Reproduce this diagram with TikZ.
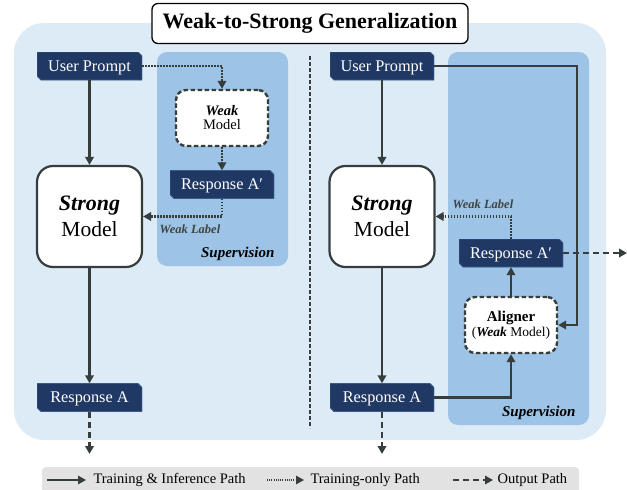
\documentclass[tikz,border=0pt]{standalone}
\usepackage{fontspec}
\setmainfont{Liberation Serif}
\usetikzlibrary{arrows.meta,calc}
\definecolor{bgblue}{HTML}{DDEBF7}
\definecolor{supblue}{HTML}{9DC3E6}
\definecolor{navy}{HTML}{203864}
\definecolor{navyedge}{HTML}{3A5A8C}
\definecolor{arr}{HTML}{363D3D}
\definecolor{lgrey}{HTML}{E2E2E2}
\definecolor{lbl}{HTML}{3E4545}
\begin{document}
\begin{tikzpicture}[x=1pt,y=-1pt,
  darknode/.style={rectangle, minimum width=#1, minimum height=28pt, inner sep=0pt,
    text height=10.8pt, text depth=0pt,
    text=white, font=\fontsize{16.3}{16.3}\selectfont,
    path picture={\fill[navy, draw=navyedge, line width=0.8pt]
      (path picture bounding box.north west)
      -- ([xshift=-4pt]path picture bounding box.north east)
      -- ([yshift=-4pt]path picture bounding box.north east)
      -- (path picture bounding box.south east)
      -- ([xshift=4pt]path picture bounding box.south west)
      -- ([yshift=4pt]path picture bounding box.south west) -- cycle;}},
  darknode/.default=105pt,
  strongbox/.style={draw=arr, line width=2.2pt, fill=white, rounded corners=16pt,
    minimum width=105pt, minimum height=101pt, align=center, inner sep=0pt},
  weakbox/.style={draw=arr, line width=2.4pt, dash pattern=on 4.5pt off 2.5pt, fill=white,
    rounded corners=10pt, minimum width=92pt, minimum height=56pt, align=center, inner sep=0pt},
  solidarr/.style={draw=arr, line width=2.2pt, -{Triangle[length=8pt,width=8.5pt]}},
  dotarr/.style={draw=arr, line width=2.2pt, dash pattern=on 1.5pt off 1.5pt, -{Triangle[length=8pt,width=8.5pt]}},
  dasharr/.style={draw=arr, line width=2.2pt, dash pattern=on 6pt off 4pt, -{Triangle[length=8pt,width=8.5pt]}},
  wlabel/.style={text=lbl, font=\fontsize{12.5}{12.5}\selectfont\bfseries\itshape},
  suplabel/.style={text=black, font=\fontsize{15}{15}\selectfont\bfseries\itshape, anchor=east},
  legtext/.style={text=black, font=\fontsize{14.5}{14.5}\selectfont, anchor=west}
]
\useasboundingbox (0,0) rectangle (627,490);
% backgrounds
\fill[bgblue, rounded corners=30pt] (14,23) rectangle (606,440);
\fill[supblue, rounded corners=10pt] (157,52) rectangle (288,266);
\fill[supblue, rounded corners=10pt] (448,52) rectangle (589,425);
\draw[arr, line width=1.3pt, dash pattern=on 3.5pt off 2.5pt] (310,56) -- (310,428);
% title
\node[draw=black, line width=1.3pt, fill=white, rounded corners=6pt, minimum width=316pt,
  minimum height=40pt, inner sep=0pt, font=\fontsize{22}{22}\selectfont\bfseries] (title) at (310,23.5) {Weak-to-Strong Generalization};
% legend
\fill[lgrey, rounded corners=4pt] (42,467) rectangle (579,496);
% ---------------- left ----------------
\node[darknode] (up1) at (89.5,66) {User Prompt};
\node[weakbox] (weak1) at (222,118) {{\fontsize{14.5}{14.5}\selectfont\bfseries\itshape Weak}\\[2pt]{\fontsize{14.5}{14.5}\selectfont Model}};
\node[darknode=104pt] (ra1p) at (222,184.5) {Response A′};
\node[strongbox] (strong1) at (89.5,216.5) {{\fontsize{22}{22}\selectfont\bfseries\itshape Strong}\\[6pt]{\fontsize{21.5}{21.5}\selectfont Model}};
\node[darknode] (ra1) at (89.5,397.5) {Response A};
\coordinate (out1) at (89.5,454);
\draw[solidarr] (up1) -- (strong1);
\draw[solidarr] (strong1) -- (ra1);
\draw[dasharr] (ra1) -- (out1);
\draw[dotarr] (up1.east) -| (weak1.north);
\draw[dotarr] (weak1) -- (ra1p);
\draw[dotarr] (ra1p.south) |- (strong1.east);
\node[wlabel] (wl1) at (190,229) {Weak Label};
\node[suplabel] (sup1) at (278,254) {Supervision};
% ---------------- right ----------------
\node[darknode=104pt] (up2) at (382,66) {User Prompt};
\node[strongbox] (strong2) at (382,216.5) {{\fontsize{22}{22}\selectfont\bfseries\itshape Strong}\\[6pt]{\fontsize{21.5}{21.5}\selectfont Model}};
\node[darknode=104pt] (ra2) at (382,397.5) {Response A};
\node[darknode=104pt] (ra2p) at (511,253) {Response A′};
\node[weakbox] (aligner) at (511,325) {{\fontsize{15}{15}\selectfont\bfseries Aligner}\\[1pt]{\fontsize{13.5}{13.5}\selectfont(\textbf{\textit{Weak}} Model)}};
\coordinate (turn) at (577,200);
\coordinate (out2) at (382,454);
\coordinate (out3) at (627,253);
\draw[solidarr] (up2) -- (strong2);
\draw[solidarr] (strong2) -- (ra2);
\draw[dasharr] (ra2) -- (out2);
\draw[solidarr] (up2.east) -| (turn) |- (aligner.east);
\draw[solidarr] (aligner) -- (ra2p);
\draw[solidarr] (ra2.east) -| (aligner.south);
\draw[dotarr] (ra2p.north) |- (strong2.east);
\draw[dasharr] (ra2p.east) -- (out3);
\node[wlabel] (wl2) at (483,204) {Weak Label};
\node[suplabel] (sup2) at (579,413) {Supervision};
% legend items
\coordinate (l1a) at (47,480); \coordinate (l1b) at (86,480);
\coordinate (l2a) at (267,480); \coordinate (l2b) at (304,480);
\coordinate (l3a) at (453,480); \coordinate (l3b) at (493,480);
\draw[solidarr, line width=1.6pt] (l1a) -- (l1b);
\draw[dotarr, line width=1.4pt, dash pattern=on 1pt off 1.2pt] (l2a) -- (l2b);
\draw[dasharr, line width=1.6pt] (l3a) -- (l3b);
\node[legtext] (t1) at (90,480) {Training \& Inference Path};
\node[legtext] (t2) at (307,480) {Training-only Path};
\node[legtext] (t3) at (494,480) {Output Path};
\end{tikzpicture}
\end{document}
